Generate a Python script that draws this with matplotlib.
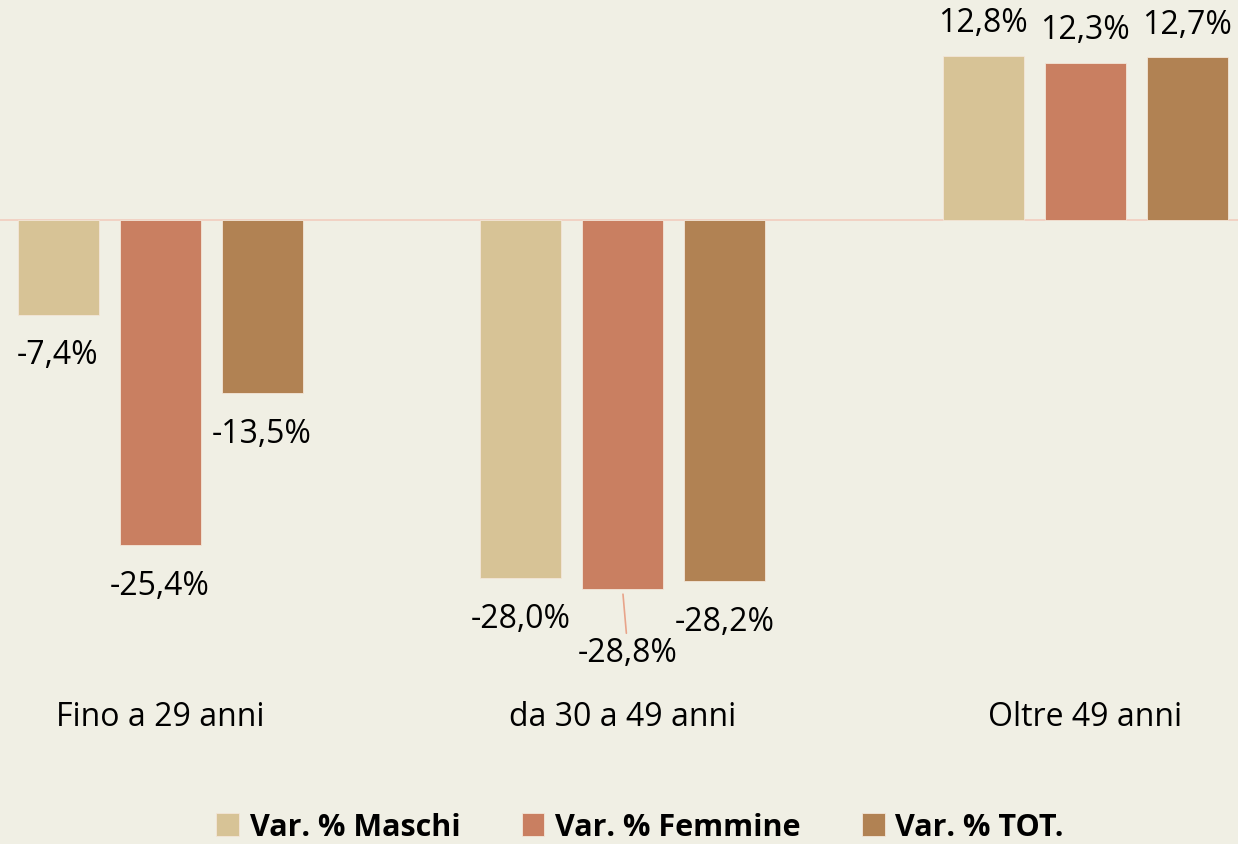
import matplotlib
matplotlib.use("Agg")
import matplotlib.pyplot as plt
import numpy as np

categories = ["Fino a 29 anni", "da 30 a 49 anni", "Oltre 49 anni"]
series_names = ["Var. % Maschi", "Var. % Femmine", "Var. % TOT."]
maschi = [-7.4, -28.0, 12.8]
femmine = [-25.4, -28.8, 12.3]
totale = [-13.5, -28.2, 12.7]
colors = ["#D7C396", "#C97F61", "#B18253"]
bg = "#F0EFE4"

plt.rcParams['font.family'] = ['Open Sans', 'DejaVu Sans']

fig = plt.figure(figsize=(12.38, 8.45), dpi=100, facecolor=bg)
ax = fig.add_axes([0, 1 - 700 / 845, 1, 700 / 845])
ax.set_facecolor(bg)

x = np.arange(len(categories))
w = 81 / 462.5
step = 102 / 462.5
data = [maschi, femmine, totale]

ax.axhline(0, color="#F2CDBE", lw=1.2, zorder=1)

FS = 23
for i, (vals, name, c) in enumerate(zip(data, series_names, colors)):
    xs = x + (i - 1) * step
    ax.bar(xs, vals, width=w, color=c, label=name, zorder=2,
           edgecolor="#F3E6D8", linewidth=0.6)
    for xi, v in zip(xs, vals):
        lab = f"{v:.1f}%".replace(".", ",")
        if v >= 0:
            ax.annotate(lab, (xi, v), xytext=(0, 24), textcoords="offset points",
                        ha="center", va="center", fontsize=FS)
        elif name == "Var. % Femmine" and v < -28.5:
            ax.annotate(lab, (xi, v), xytext=(4, -46), textcoords="offset points",
                        ha="center", va="center", fontsize=FS,
                        arrowprops=dict(arrowstyle="-", color="#E8A48A", lw=1.2,
                                        shrinkA=0, shrinkB=4))
        else:
            ax.annotate(lab, (xi, v), xytext=(0, -29), textcoords="offset points",
                        ha="center", va="center", fontsize=FS)

ax.set_xlim(-160 / 462.5, (1238 - 160) / 462.5)
ax.set_ylim(-(700 - 221) / 12.8, 221 / 12.8)
ax.axis("off")

for xi, cat in zip(x, categories):
    ax.text(xi, -(718 - 221) / 12.8, cat, ha="center", va="center", fontsize=FS)

leg = fig.legend(loc="center", bbox_to_anchor=(640 / 1238, 1 - 828 / 845), ncol=3,
                 frameon=False, handlelength=0.75, handleheight=0.75, columnspacing=2.0,
                 handletextpad=0.35, prop={"weight": "bold", "size": 22})

fig.savefig("out.png", dpi=100, facecolor=bg)
